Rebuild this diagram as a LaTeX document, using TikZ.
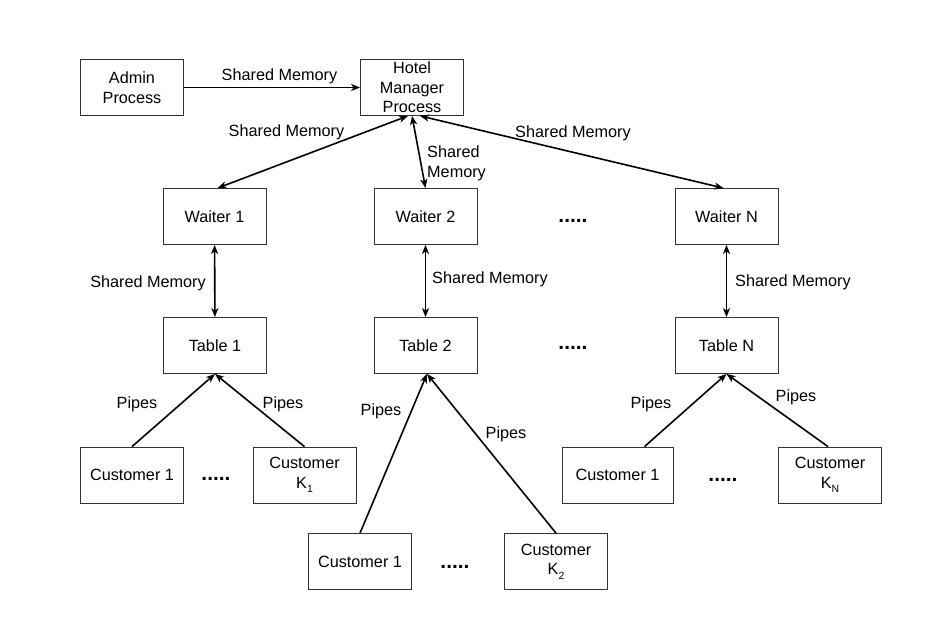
\documentclass[tikz,border=0pt]{standalone}
\usepackage{fontspec}
\setmainfont{Liberation Sans}
\usetikzlibrary{arrows.meta}
\newcommand{\lowsub}[1]{\raisebox{-0.55ex}{\fontsize{10.5}{12}\selectfont #1}}
\tikzset{
  procbox/.style={draw=black!80, line width=0.8bp, minimum width=103bp, minimum height=56bp,
    inner sep=0pt, align=center, font=\fontsize{16.3}{19.5}\selectfont},
  lbl/.style={inner sep=0pt, align=left, yshift=-1.5bp, font=\fontsize{16.3}{19.5}\selectfont},
  gap/.style={inner sep=0pt, font=\fontsize{21}{24}\selectfont\bfseries},
  tip/.tip={Stealth[length=9bp,width=7bp,inset=2.5bp]},
  link/.style={line width=1.6bp, -tip},
  dlink/.style={line width=1.6bp, tip-tip},
}
\begin{document}
\begin{tikzpicture}[x=1bp, y=-1bp]
        \useasboundingbox (0,0) rectangle (937,631);
        % processes
        \node[procbox] (admin) at (132, 87.5) {Admin\\Process};
        \node[procbox] (hotel) at (412, 87.5) {Hotel\\Manager\\Process};
        \node[procbox] (waiter1) at (214.5, 216.5) {Waiter 1};
        \node[procbox] (waiter2) at (425.5, 216.5) {Waiter 2};
        \node[procbox] (waiterN) at (726.5, 216.5) {Waiter N};
        \node[procbox] (table1)  at (215, 345.5) {Table 1};
        \node[procbox] (table2)  at (425.5, 345.5) {Table 2};
        \node[procbox] (tableN)  at (726.5, 345.5) {Table N};
        \node[procbox] (cust11)  at (132, 475) {Customer 1};
        \node[procbox] (cust1K)  at (304.5, 475) {Customer\\K\lowsub{1}};
        \node[procbox] (cust21)  at (360, 561.5) {Customer 1};
        \node[procbox] (cust2K)  at (556, 561.5) {Customer\\K\lowsub{2}};
        \node[procbox, minimum width=111bp] (custN1) at (617.5, 475) {Customer 1};
        \node[procbox] (custNK)  at (830, 475) {Customer\\K\lowsub{N}};
        % dots
        \node[gap] (dotsW)  at (573, 221) {.....};
        \node[gap] (dotsT)  at (573, 348) {.....};
        \node[gap] (dots1)  at (216, 479) {.....};
        \node[gap] (dots2)  at (455, 567) {.....};
        \node[gap] (dotsN)  at (723, 480) {.....};
        % shared memory
        \draw[link]  (admin) -- (hotel);
        \draw[dlink] ([xshift=-4bp]hotel.south) -- ([xshift=3bp]waiter1.north);
        \draw[dlink] (hotel.south) -- (waiter2.north);
        \draw[dlink] ([xshift=8bp]hotel.south) -- ([xshift=-3bp]waiterN.north);
        \draw[dlink] (waiter1) -- (table1);
        \draw[dlink] (waiter2) -- (table2);
        \draw[dlink] (waiterN) -- (tableN);
        \node[lbl] (smAdmin) at (279.5, 75) {Shared Memory};
        \node[lbl] (smW1) at (286.5, 131) {Shared Memory};
        \node[lbl, anchor=west] (smW2) at (427, 162) {Shared\\Memory};
        \node[lbl] (smWN) at (573, 132) {Shared Memory};
        \node[lbl, anchor=east] (smT1) at (206, 282) {Shared Memory};
        \node[lbl, anchor=west] (smT2) at (432, 278) {Shared Memory};
        \node[lbl, anchor=west] (smTN) at (735, 281) {Shared Memory};
        % pipes
        \draw[link] (cust11.north) -- (table1.south);
        \draw[link] (cust1K.north) -- (table1.south);
        \draw[link] (cust21.north) -- ([xshift=1.5bp]table2.south);
        \draw[link] (cust2K.north) -- ([xshift=1.5bp]table2.south);
        \draw[link] ([xshift=27bp]custN1.north) -- (tableN.south);
        \draw[link] ([xshift=-2bp]custNK.north) -- (tableN.south);
        \node[lbl] (pipe11) at (137, 403) {Pipes};
        \node[lbl] (pipe1K) at (283, 403) {Pipes};
        \node[lbl] (pipe21) at (381, 410) {Pipes};
        \node[lbl] (pipe2K) at (506, 433) {Pipes};
        \node[lbl] (pipeN1) at (651, 403) {Pipes};
        \node[lbl] (pipeNK) at (796, 396) {Pipes};
\end{tikzpicture}
\end{document}
